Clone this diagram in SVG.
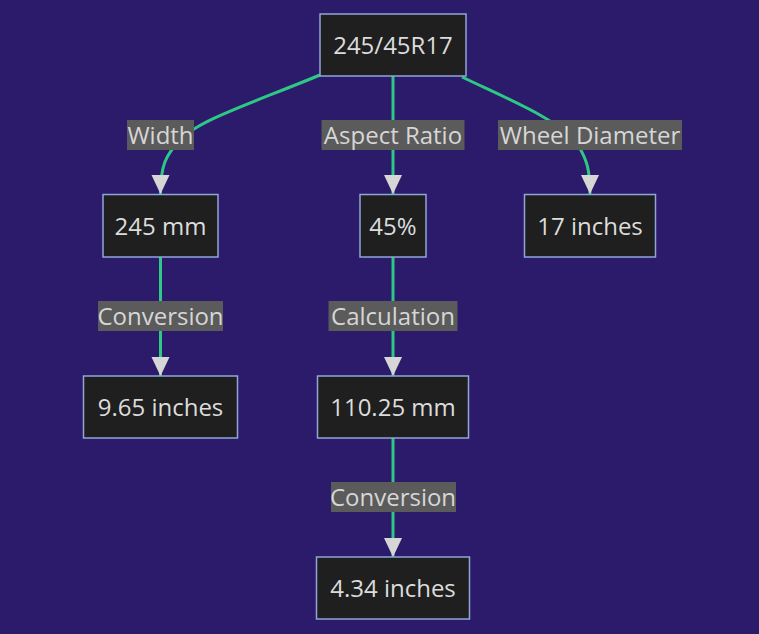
<svg xmlns="http://www.w3.org/2000/svg" width="759" height="634" viewBox="0 0 759 634">
<defs>
<style>
.node rect{fill:#1f1f1f;stroke:#8ea6d8;stroke-width:1.5}
.node text{font-family:"Open Sans","DejaVu Sans",sans-serif;font-size:24px;fill:#dcdcdc;text-anchor:middle;dominant-baseline:central}
.edge{fill:none;stroke:#2ec886;stroke-width:3}
.lbl rect{fill:#5b5b5b}
.lbl text{font-family:"Open Sans","DejaVu Sans",sans-serif;font-size:24px;fill:#d6d6d6;text-anchor:middle;dominant-baseline:central}
</style>
<marker id="arr" viewBox="0 0 20 19" refX="20" refY="9.5" markerWidth="19" markerHeight="19" markerUnits="userSpaceOnUse" orient="auto">
<path d="M0,0 L20,9.5 L0,19 Z" fill="#d6d6d6"/>
</marker>
</defs>
<rect width="759" height="634" fill="#2c1a6a"/>
<g id="connectors">
<path class="edge" marker-end="url(#arr)" d="M320,75 C255,102 198,120 180,140 C166,155 160.5,165 160.5,194"/>
<path class="edge" marker-end="url(#arr)" d="M393,76 L393,194"/>
<path class="edge" marker-end="url(#arr)" d="M462,77 C510,100 560,120 578,145 C587,160 590,170 590,194"/>
<path class="edge" marker-end="url(#arr)" d="M160.5,257 L160.5,376"/>
<path class="edge" marker-end="url(#arr)" d="M393,257 L393,376"/>
<path class="edge" marker-end="url(#arr)" d="M393,438 L393,557"/>
</g>
<g id="edge-labels">
<g class="lbl"><rect x="127" y="120" width="67" height="30"/><text x="160.5" y="134">Width</text></g>
<g class="lbl"><rect x="321.5" y="120" width="143" height="30"/><text x="393" y="134">Aspect Ratio</text></g>
<g class="lbl"><rect x="498" y="120" width="184" height="30"/><text x="590" y="134">Wheel Diameter</text></g>
<g class="lbl"><rect x="98" y="301" width="125" height="30"/><text x="160.5" y="315">Conversion</text></g>
<g class="lbl"><rect x="328.5" y="301" width="129" height="30"/><text x="393" y="315">Calculation</text></g>
<g class="lbl"><rect x="331" y="482" width="125" height="30"/><text x="393" y="496">Conversion</text></g>
</g>
<g id="n-tire" class="node"><rect x="320" y="14" width="146" height="62"/><text x="393" y="44">245/45R17</text></g>
<g id="n-width" class="node"><rect x="103" y="194.5" width="115" height="62.5"/><text x="160.5" y="225">245 mm</text></g>
<g id="n-aspect" class="node"><rect x="360" y="194.5" width="66" height="62.5"/><text x="393" y="225">45%</text></g>
<g id="n-wheel" class="node"><rect x="524.5" y="194.5" width="131" height="62.5"/><text x="590" y="225">17 inches</text></g>
<g id="n-width-in" class="node"><rect x="83.5" y="376" width="154" height="62"/><text x="160.5" y="406">9.65 inches</text></g>
<g id="n-sidewall" class="node"><rect x="317.5" y="376" width="151" height="62"/><text x="393" y="406">110.25 mm</text></g>
<g id="n-sidewall-in" class="node"><rect x="316.5" y="557" width="153" height="62"/><text x="393" y="587">4.34 inches</text></g>
</svg>
